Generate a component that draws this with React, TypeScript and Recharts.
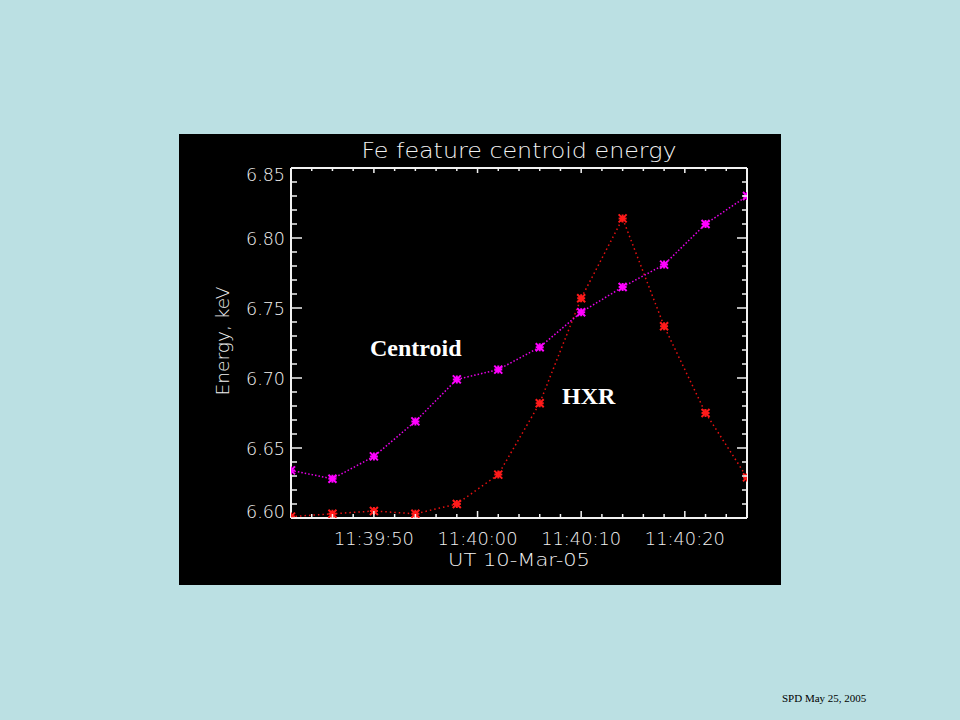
import React from 'react';
import { LineChart, Line, XAxis, YAxis } from 'recharts';

// sample times (UT, 10-Mar-05) and the two energy series, keV
const times = ['11:39:42', '11:39:46', '11:39:50', '11:39:54', '11:39:58', '11:40:02', '11:40:06', '11:40:10', '11:40:14', '11:40:18', '11:40:22', '11:40:26'];
const centroid = [6.634, 6.628, 6.644, 6.669, 6.699, 6.706, 6.722, 6.747, 6.765, 6.781, 6.810, 6.830];
const hxr = [6.601, 6.603, 6.605, 6.603, 6.610, 6.631, 6.682, 6.757, 6.814, 6.737, 6.675, 6.629];

const xDomain = ['11:39:42', '11:40:26'];
const xMajorLabels = ['11:39:50', '11:40:00', '11:40:10', '11:40:20'];
const xMinorLabels = ['11:39:44', '11:39:46', '11:39:48', '11:39:52', '11:39:54', '11:39:56', '11:39:58', '11:40:02', '11:40:04', '11:40:06', '11:40:08', '11:40:12', '11:40:14', '11:40:16', '11:40:18', '11:40:22', '11:40:24'];
const yMajorTicks = [6.60, 6.65, 6.70, 6.75, 6.80, 6.85];
const yMinorTicks = [6.61, 6.62, 6.63, 6.64, 6.66, 6.67, 6.68, 6.69, 6.71, 6.72, 6.73, 6.74, 6.76, 6.77, 6.78, 6.79, 6.81, 6.82, 6.83, 6.84];

// seconds relative to 11:40:00
const toSec = (s: string) => {
  const [h, m, sec] = s.split(':').map(Number);
  return (h * 3600 + m * 60 + sec) - (11 * 3600 + 40 * 60);
};
const fromSec = (v: number) => {
  const total = 11 * 3600 + 40 * 60 + v;
  const h = Math.floor(total / 3600);
  const m = Math.floor((total % 3600) / 60);
  const s = total % 60;
  return `${h}:${String(m).padStart(2, '0')}:${String(s).padStart(2, '0')}`;
};

const data = times.map((t, i) => ({ t: toSec(t), centroid: centroid[i], hxr: hxr[i] }));

const xMajor = xMajorLabels.map(toSec);
const xTicks = [...xMajor, ...xMinorLabels.map(toSec)].sort((a, b) => a - b);
const yTicks = [...yMajorTicks, ...yMinorTicks].sort((a, b) => a - b);

const isMajorX = (v: number) => xMajor.includes(v);
const isMajorY = (v: number) => yMajorTicks.some((m) => Math.abs(m - v) < 1e-6);

const FG = '#f2f2f2';
const FONT = '"DejaVu Sans", sans-serif';

function LeftTick({ x, y, payload }: any) {
  const major = isMajorY(payload.value);
  const v = payload.value;
  const dy = Math.abs(v - 6.85) < 1e-6 ? 13 : Math.abs(v - 6.6) < 1e-6 ? 0 : 6.5;
  return (
    <g>
      <line x1={x} y1={y} x2={x + (major ? 11 : 6)} y2={y} stroke={FG} strokeWidth={1.5} />
      {major && (
        <text x={x - 6} y={y + dy} textAnchor="end" fill={FG} fontFamily={FONT} fontWeight={200} fontSize={18} textLength={39} lengthAdjust="spacingAndGlyphs">
          {v.toFixed(2)}
        </text>
      )}
    </g>
  );
}

function RightTick({ x, y, payload }: any) {
  const major = isMajorY(payload.value);
  return <line x1={x} y1={y} x2={x - (major ? 10 : 5)} y2={y} stroke={FG} strokeWidth={1.5} />;
}

function BottomTick({ x, y, payload }: any) {
  const major = isMajorX(payload.value);
  return (
    <g>
      <line x1={x} y1={y} x2={x} y2={y - (major ? 7 : 4)} stroke={FG} strokeWidth={1.5} />
      {major && (
        <text x={x} y={y + 27} textAnchor="middle" fill={FG} fontFamily={FONT} fontWeight={200} fontSize={18} textLength={80} lengthAdjust="spacingAndGlyphs">
          {fromSec(payload.value)}
        </text>
      )}
    </g>
  );
}

function TopTick({ x, y, payload }: any) {
  const major = isMajorX(payload.value);
  return <line x1={x} y1={y} x2={x} y2={y + (major ? 5 : 3)} stroke={FG} strokeWidth={1.5} />;
}

const star = (color: string) => (props: any) => {
  const { cx, cy, index } = props;
  if (cx == null || cy == null) return <g key={index} />;
  const r = 4;
  return (
    <path
      key={index}
      d={`M${cx - r},${cy - r}L${cx + r},${cy + r}M${cx - r},${cy + r}L${cx + r},${cy - r}M${cx - r},${cy}L${cx + r},${cy}M${cx},${cy - r}L${cx},${cy + r}`}
      stroke={color}
      strokeWidth={2}
      fill="none"
    />
  );
};

export default function App() {
  return (
    <div style={{ position: 'absolute', left: 0, top: 0, width: 960, height: 720, background: '#bbe0e3', overflow: 'hidden' }}>
      <div style={{ position: 'absolute', left: 179, top: 134, width: 602, height: 451, background: '#000' }}>
        <LineChart width={602} height={451} data={data} margin={{ top: 24, right: 14, bottom: 27, left: 52 }}>
          <XAxis
            dataKey="t"
            type="number"
            domain={[toSec(xDomain[0]), toSec(xDomain[1])]}
            ticks={xTicks}
            interval={0}
            height={40}
            tickSize={0}
            tickMargin={0}
            tickLine={false}
            axisLine={{ stroke: FG, strokeWidth: 2 }}
            tick={<BottomTick />}
            allowDataOverflow
          />
          <XAxis
            xAxisId="top"
            dataKey="t"
            orientation="top"
            type="number"
            domain={[toSec(xDomain[0]), toSec(xDomain[1])]}
            ticks={xTicks}
            interval={0}
            height={10}
            tickSize={0}
            tickMargin={0}
            tickLine={false}
            axisLine={{ stroke: FG, strokeWidth: 2 }}
            tick={<TopTick />}
            allowDataOverflow
          />
          <YAxis
            type="number"
            domain={[6.6, 6.85]}
            ticks={yTicks}
            interval={0}
            width={60}
            tickSize={0}
            tickMargin={0}
            tickLine={false}
            axisLine={{ stroke: FG, strokeWidth: 2 }}
            tick={<LeftTick />}
            allowDataOverflow
          />
          <YAxis
            yAxisId="right"
            orientation="right"
            type="number"
            domain={[6.6, 6.85]}
            ticks={yTicks}
            interval={0}
            width={20}
            tickSize={0}
            tickMargin={0}
            tickLine={false}
            axisLine={{ stroke: FG, strokeWidth: 2 }}
            tick={<RightTick />}
            allowDataOverflow
          />
          {/* invisible series so the mirrored frame axes share the same scales */}
          <Line
            xAxisId="top"
            yAxisId="right"
            dataKey="centroid"
            stroke="none"
            dot={false}
            activeDot={false}
            legendType="none"
            isAnimationActive={false}
          />
          <Line
            dataKey="hxr"
            type="linear"
            stroke="#e81010"
            strokeWidth={1.5}
            strokeDasharray="1.5 3"
            dot={star('#ff1a1a')}
            activeDot={false}
            isAnimationActive={false}
          />
          <Line
            dataKey="centroid"
            type="linear"
            stroke="#e800e8"
            strokeWidth={1.5}
            strokeDasharray="1.5 2"
            dot={star('#ff00ff')}
            activeDot={false}
            isAnimationActive={false}
          />
        </LineChart>
      </div>
      <svg width={960} height={720} style={{ position: 'absolute', left: 0, top: 0, pointerEvents: 'none' }}>
        <text x={519} y={158} textAnchor="middle" fill={FG} fontFamily={FONT} fontWeight={200} fontSize={22} textLength={315} lengthAdjust="spacingAndGlyphs">
          Fe feature centroid energy
        </text>
        <text x={519} y={566} textAnchor="middle" fill={FG} fontFamily={FONT} fontWeight={200} fontSize={18} textLength={142} lengthAdjust="spacingAndGlyphs">
          UT 10-Mar-05
        </text>
        <text transform="translate(229,341) rotate(-90)" textAnchor="middle" fill={FG} fontFamily={FONT} fontWeight={200} fontSize={18} textLength={109} lengthAdjust="spacingAndGlyphs">
          Energy, keV
        </text>
        <text x={370} y={356} fill="#fff" fontFamily='"Liberation Serif", "Times New Roman", serif' fontWeight="bold" fontSize={24}>
          Centroid
        </text>
        <text x={562} y={404} fill="#fff" fontFamily='"Liberation Serif", "Times New Roman", serif' fontWeight="bold" fontSize={24}>
          HXR
        </text>
        <text x={782} y={702} fill="#000" fontFamily='"Liberation Serif", "Times New Roman", serif' fontSize={11}>
          SPD May 25, 2005
        </text>
      </svg>
    </div>
  );
}
